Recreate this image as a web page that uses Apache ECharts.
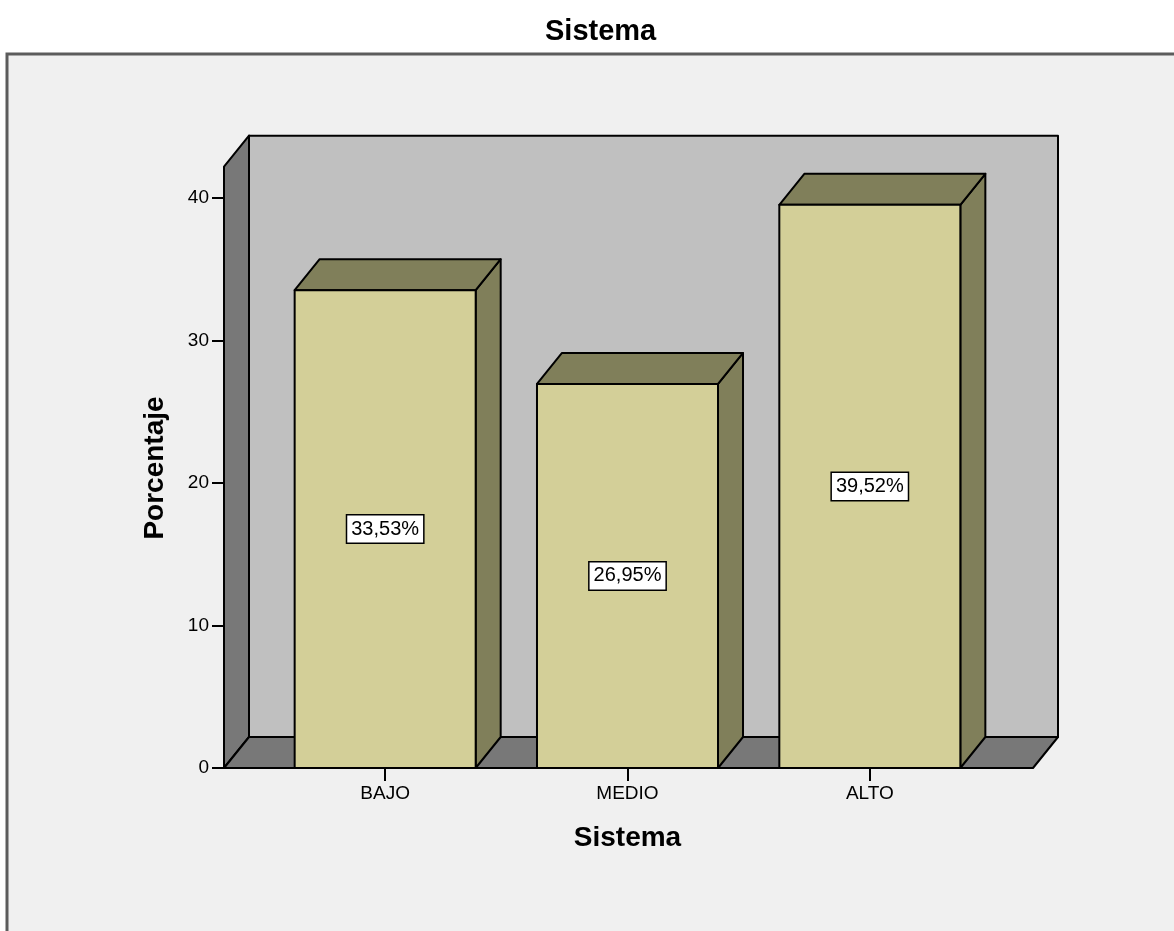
<!DOCTYPE html>
<html>
<head>
<meta charset="utf-8">
<title>Sistema</title>
<script src="https://cdn.jsdelivr.net/npm/echarts@6/dist/echarts.min.js"></script>
<style>
  html, body { margin: 0; padding: 0; background: #ffffff; }
  #main { width: 1174px; height: 931px; }
</style>
</head>
<body>
<div id="main"></div>
<script>
// data
const categories = ["BAJO", "MEDIO", "ALTO"];
const percentages = [33.53, 26.95, 39.52];
const yTicks = [0, 10, 20, 30, 40];

// look of the 3d box
const DX = 25, DY = -31;
const WALL_TOP = 42.2;
const FONT = "'Liberation Sans', Arial, sans-serif";
const EDGE = { stroke: "#000", lineWidth: 2, lineJoin: "round" };

function fmtPct(v) {
  return v.toFixed(2).replace(".", ",") + "%";
}

function renderWalls(params, api) {
  const cs = params.coordSys;
  const x0 = cs.x - 40, x1 = cs.x + cs.width + 42;
  const yb = api.coord([0, 0])[1];
  const yt = api.coord([0, WALL_TOP])[1];
  return {
    type: "group",
    children: [
      { type: "polygon", shape: { points: [[x0 + DX, yt + DY], [x1 + DX, yt + DY], [x1 + DX, yb + DY], [x0 + DX, yb + DY]] },
        style: Object.assign({ fill: "#c0c0c0" }, EDGE) },
      { type: "polygon", shape: { points: [[x0, yt], [x0 + DX, yt + DY], [x0 + DX, yb + DY], [x0, yb]] },
        style: Object.assign({ fill: "#787878" }, EDGE) },
      { type: "polygon", shape: { points: [[x0, yb], [x0 + DX, yb + DY], [x1 + DX, yb + DY], [x1, yb]] },
        style: Object.assign({ fill: "#787878" }, EDGE) }
    ]
  };
}

function renderBar(params, api) {
  const top = api.coord([api.value(0), api.value(1)]);
  const base = api.coord([api.value(0), 0]);
  const w = api.size([1, 0])[0] * 0.747;
  const l = top[0] - w / 2, r = top[0] + w / 2, t = top[1], b = base[1];
  return {
    type: "group",
    children: [
      { type: "polygon", shape: { points: [[r, t], [r + DX, t + DY], [r + DX, b + DY], [r, b]] },
        style: Object.assign({ fill: "#807f5a" }, EDGE) },
      { type: "polygon", shape: { points: [[l, t], [l + DX, t + DY], [r + DX, t + DY], [r, t]] },
        style: Object.assign({ fill: "#807f5a" }, EDGE) },
      { type: "rect", shape: { x: l, y: t, width: w, height: b - t },
        style: Object.assign({ fill: "#d3cf98" }, EDGE) },
      { type: "text", x: top[0], y: (t + b) / 2,
        style: {
          text: fmtPct(api.value(1)),
          align: "center", verticalAlign: "middle",
          fontFamily: FONT, fontSize: 20, fill: "#000",
          backgroundColor: "#ffffff", borderColor: "#000", borderWidth: 1.5,
          padding: [4, 4, 3, 4]
        } }
    ]
  };
}

const chart = echarts.init(document.getElementById("main"), null, { renderer: "canvas" });

const option = {
  animation: false,
  backgroundColor: "#ffffff",
  title: {
    text: "Sistema",
    left: 540, top: 12,
    textStyle: { fontFamily: FONT, fontSize: 29, fontWeight: "bold", color: "#000" }
  },
  graphic: [
    { type: "rect", z: -10, silent: true,
      shape: { x: 7, y: 54, width: 1190, height: 900 },
      style: { fill: "#f0f0f0", stroke: "#5c5c5c", lineWidth: 3 } },
    { type: "text", z: 10, x: 155, y: 468, rotation: Math.PI / 2,
      style: { text: "Porcentaje", align: "center", verticalAlign: "middle",
        fontFamily: FONT, fontSize: 28, fontWeight: "bold", fill: "#000" } }
  ],
  grid: { left: 264, top: 198, width: 727, height: 570 },
  xAxis: {
    type: "category",
    data: categories,
    axisLine: { show: false },
    axisTick: { show: true, alignWithLabel: true, length: 13, lineStyle: { color: "#000", width: 2 } },
    axisLabel: { margin: 16, fontFamily: FONT, fontSize: 19, color: "#000" },
    name: "Sistema",
    nameLocation: "middle",
    nameGap: 56,
    nameTextStyle: { fontFamily: FONT, fontSize: 28, fontWeight: "bold", color: "#000" },
    splitLine: { show: false }
  },
  yAxis: {
    type: "value",
    min: yTicks[0],
    max: yTicks[yTicks.length - 1],
    interval: yTicks[1] - yTicks[0],
    offset: 40,
    axisLine: { show: false },
    axisTick: { show: true, length: 12, lineStyle: { color: "#000", width: 2 } },
    axisLabel: { margin: 15, fontFamily: FONT, fontSize: 19, color: "#000" },
    splitLine: { show: false }
  },
  series: [
    { type: "custom", name: "walls", z: 1, silent: true, clip: false,
      renderItem: renderWalls, data: [[0, 0]] },
    { type: "custom", name: "Porcentaje", z: 2, silent: true, clip: false,
      renderItem: renderBar,
      data: categories.map((c, i) => [i, percentages[i]]) }
  ]
};

chart.setOption(option);
</script>
</body>
</html>
